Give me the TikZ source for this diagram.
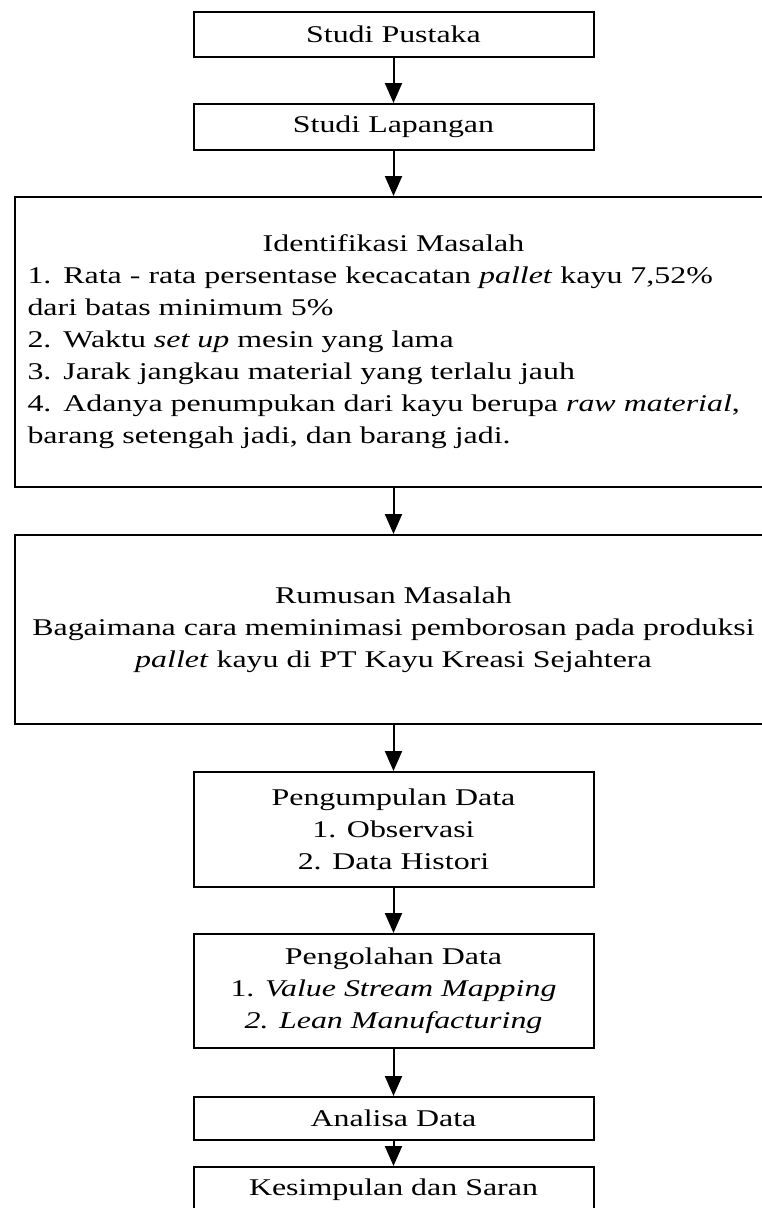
\documentclass[tikz,border=0pt]{standalone}
\usepackage{fontspec}
\setmainfont{Liberation Serif}[FakeStretch=1.33]
\usetikzlibrary{arrows.meta}
\setlength{\parindent}{0pt}
\tikzset{
  box/.style={draw, line width=2pt, minimum width=400pt, align=center,
    inner sep=0pt, font=\fontsize{24pt}{32pt}\selectfont},
  widebox/.style={box, minimum width=758pt},
}
\begin{document}
\begin{tikzpicture}[x=1pt, y=-1pt]
      \clip (0,0) rectangle (762,1208);
      \draw
        (393.5,34.5) node[box, minimum height=45pt] (pustaka) {Studi Pustaka}
        (393.5,127) node[box, minimum height=46pt] (lapangan) {Studi Lapangan}
        (393.5,342) node[widebox, minimum height=290pt, text width=732pt,
          inner xsep=13pt, align=left] (identifikasi)
          {\makebox[\hsize]{Identifikasi Masalah}\\
           1. Rata - rata persentase kecacatan \textit{pallet} kayu 7,52\%\\
           dari batas minimum 5\%\\
           2. Waktu \textit{set up} mesin yang lama\\
           3. Jarak jangkau material yang terlalu jauh\\
           4. Adanya penumpukan dari kayu berupa \textit{raw material},\\
           barang setengah jadi, dan barang jadi.}
        (393.5,629.5) node[widebox, minimum height=189pt] (rumusan)
          {Rumusan Masalah\\
           Bagaimana cara meminimasi pemborosan pada produksi\\
           \textit{pallet} kayu di PT Kayu Kreasi Sejahtera}
        (393.5,829.5) node[box, minimum height=115pt] (pengumpulan)
          {Pengumpulan Data\\1. Observasi\\2. Data Histori}
        (393.5,991) node[box, minimum height=114pt] (pengolahan)
          {Pengolahan Data\\1. \textit{Value Stream Mapping}\\\textit{2. Lean Manufacturing}}
        (393.5,1118.5) node[box, minimum height=43pt] (analisa) {Analisa Data}
        (393.5,1189.5) node[box, minimum height=45pt] (kesimpulan) {Kesimpulan dan Saran};
      \begin{scope}[-{Triangle[length=20pt, width=17pt]}, line width=2pt]
        \draw (pustaka) to (lapangan);
        \draw (lapangan) to (identifikasi);
        \draw (identifikasi) to (rumusan);
        \draw (rumusan) to (pengumpulan);
        \draw (pengumpulan) to (pengolahan);
        \draw (pengolahan) to (analisa);
        \draw (analisa) to (kesimpulan);
      \end{scope}
    \end{tikzpicture}
\end{document}
